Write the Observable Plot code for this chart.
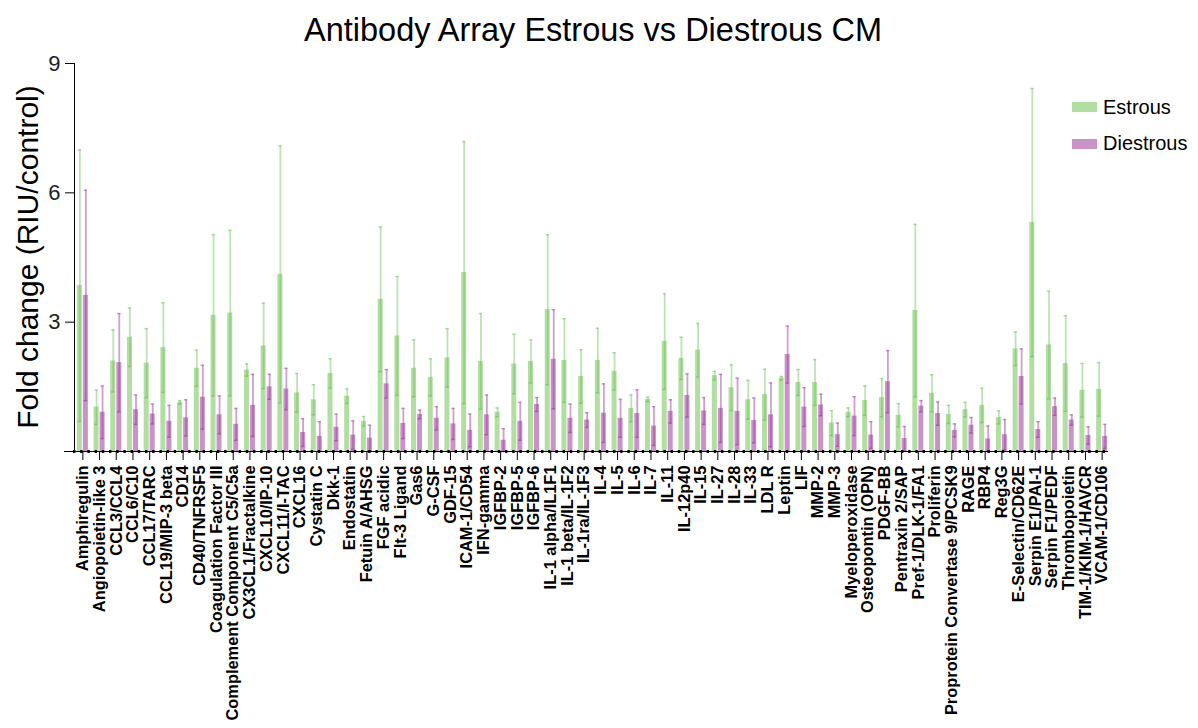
<!DOCTYPE html>
<html><head><meta charset="utf-8">
<script src="https://cdn.jsdelivr.net/npm/d3@7"></script>
<script src="https://cdn.jsdelivr.net/npm/@observablehq/plot@0.6"></script>
<style>
body{margin:0;background:#fff;}
#wrap{position:relative;width:1198px;height:728px;overflow:hidden;font-family:"Liberation Sans",Arial,sans-serif;background:#fff;}
#chart{position:absolute;left:0;top:0;}
#title{position:absolute;left:193px;width:800px;top:14px;text-align:center;font-size:32.5px;line-height:32px;color:#000;white-space:nowrap;}
#ylab{position:absolute;left:-172px;width:400px;top:242px;line-height:30px;font-size:30px;text-align:center;transform:rotate(-90deg);color:#000;white-space:nowrap;}
.sw{position:absolute;width:25px;height:10px;}
.lt{position:absolute;font-size:20px;line-height:20px;color:#000;white-space:nowrap;}
#chart svg g[aria-label^="x-axis"] text{font-size:16.4px;font-weight:bold;fill:#000;font-family:"Liberation Sans",Arial,sans-serif;}
#chart svg g[aria-label^="y-axis"] text{font-size:22px;fill:#222;font-family:"Liberation Sans",Arial,sans-serif;}
</style>
</head><body>
<div id="wrap">
  <div id="chart"></div>
  <div id="title">Antibody Array Estrous vs Diestrous CM</div>
  <div id="ylab">Fold change (RIU/control)</div>
  <div class="sw" style="left:1072px;top:102px;background:#b2dea2"></div>
  <div class="lt" style="left:1103px;top:97px;">Estrous</div>
  <div class="sw" style="left:1072px;top:139px;background:#c993c8"></div>
  <div class="lt" style="left:1103px;top:133px;">Diestrous</div>
</div>
<script>
const categories = ["Amphiregulin","Angiopoietin-like 3","CCL3/CCL4","CCL6/C10","CCL17/TARC","CCL19/MIP-3 beta","CD14","CD40/TNFRSF5","Coagulation Factor III","Complement Component C5/C5a","CX3CL1/Fractalkine","CXCL10/IP-10","CXCL11/I-TAC","CXCL16","Cystatin C","Dkk-1","Endostatin","Fetuin A/AHSG","FGF acidic","Flt-3 Ligand","Gas6","G-CSF","GDF-15","ICAM-1/CD54","IFN-gamma","IGFBP-2","IGFBP-5","IGFBP-6","IL-1 alpha/IL1F1","IL-1 beta/IL-1F2","IL-1ra/IL-1F3","IL-4","IL-5","IL-6","IL-7","IL-11","IL-12p40","IL-15","IL-27","IL-28","IL-33","LDL R","Leptin","LIF","MMP-2","MMP-3","Myeloperoxidase","Osteopontin (OPN)","PDGF-BB","Pentraxin 2/SAP","Pref-1/DLK-1/FA1","Proliferin","Proprotein Convertase 9/PCSK9","RAGE","RBP4","Reg3G","E-Selectin/CD62E","Serpin E1/PAI-1","Serpin F1/PEDF","Thrombopoietin","TIM-1/KIM-1/HAVCR","VCAM-1/CD106"];
const estrous = [3.85,1.03,2.10,2.65,2.05,2.41,1.14,1.93,3.16,3.21,1.89,2.45,4.11,1.36,1.20,1.81,1.28,0.70,3.53,2.68,1.93,1.72,2.17,4.15,2.09,0.91,2.03,2.09,3.29,2.11,1.74,2.11,1.86,1.00,1.21,2.55,2.16,2.35,1.76,1.48,1.20,1.32,1.70,1.60,1.60,0.66,0.91,1.18,1.25,0.84,3.27,1.35,0.86,0.97,1.07,0.79,2.38,5.31,2.47,2.04,1.42,1.44];
const estrousErr = [3.15,0.40,0.72,0.68,0.80,1.04,0.04,0.42,1.87,1.92,0.14,0.99,2.98,0.45,0.35,0.34,0.17,0.11,1.68,1.38,0.66,0.43,0.68,3.04,1.11,0.10,0.69,0.50,1.74,0.97,0.62,0.75,0.43,0.31,0.05,1.11,0.49,0.62,0.10,0.53,0.45,0.59,0.04,0.30,0.53,0.29,0.10,0.34,0.44,0.27,2.00,0.43,0.21,0.17,0.40,0.15,0.39,3.11,1.25,1.11,0.62,0.62];
const diestrous = [3.62,0.91,2.06,0.97,0.87,0.70,0.78,1.26,0.85,0.63,1.07,1.50,1.45,0.44,0.35,0.56,0.38,0.31,1.57,0.65,0.86,0.77,0.64,0.49,0.85,0.26,0.70,1.09,2.14,0.77,0.73,0.89,0.77,0.88,0.59,0.93,1.30,0.94,1.00,0.93,0.72,0.85,2.25,1.03,1.08,0.39,0.82,0.38,1.62,0.30,1.05,0.88,0.49,0.61,0.29,0.39,1.74,0.51,1.04,0.73,0.37,0.35];
const diestrousErr = [2.44,0.61,1.14,0.34,0.23,0.37,0.42,0.74,0.44,0.37,0.72,0.29,0.48,0.32,0.34,0.31,0.33,0.30,0.33,0.35,0.10,0.27,0.36,0.38,0.46,0.27,0.44,0.16,1.15,0.33,0.17,0.68,0.44,0.55,0.45,0.27,0.50,0.31,0.79,0.77,0.52,0.74,0.66,0.45,0.25,0.27,0.45,0.31,0.72,0.28,0.13,0.27,0.15,0.18,0.30,0.35,0.64,0.18,0.20,0.12,0.20,0.28];
const seriesNames = ["Estrous","Diestrous"];
const seriesColors = ["#b2dea2","#c993c8"];
const errColors = ["#6cc05a","#a33ea3"];

const mk = (vals, errs, s) => categories.map((c,i) => ({cat:c, series:s, mean:vals[i], lo:Math.max(0, vals[i]-errs[i]), hi:vals[i]+errs[i]}));
const E = mk(estrous, estrousErr, seriesNames[0]);
const D = mk(diestrous, diestrousErr, seriesNames[1]);

const ML = 74, MR = 88, W = 1198;
const bw = (W - ML - MR) / categories.length;
const half = bw/2;
const barW = 5, gap = 0.5;
const off = gap + barW/2;
const capW = 3.4;

const chart = Plot.plot({
  width: W, height: 728,
  marginLeft: ML, marginRight: MR, marginTop: 63, marginBottom: 277,
  style: {fontFamily: '"Liberation Sans", Arial, sans-serif', background: "transparent", color: "#000"},
  x: {domain: categories, padding: 0, tickSize: 9, tickRotate: -90, tickPadding: 5, label: null},
  y: {domain: [0, 9], ticks: [0, 3, 6, 9], tickFormat: d => d === 0 ? "" : String(d), tickSize: 9, tickPadding: 5, label: null, line: true},
  marks: [
    Plot.barY(E, {x: "cat", y: "mean", fill: seriesColors[0], insetLeft: half - gap - barW, insetRight: half + gap}),
    Plot.barY(D, {x: "cat", y: "mean", fill: seriesColors[1], insetLeft: half + gap, insetRight: half - gap - barW}),
    Plot.ruleX(E, {x: "cat", y1: "lo", y2: "hi", dx: -off, stroke: errColors[0], strokeOpacity: 0.45, strokeWidth: 1.8}),
    Plot.ruleX(D, {x: "cat", y1: "lo", y2: "hi", dx: off, stroke: errColors[1], strokeOpacity: 0.5, strokeWidth: 1.8}),
    Plot.tickY(E, {x: "cat", y: "hi", stroke: errColors[0], strokeOpacity: 0.5, strokeWidth: 1.5, insetLeft: half - off - capW/2, insetRight: bw - (half - off - capW/2) - capW}),
    Plot.tickY(E, {x: "cat", y: "lo", stroke: errColors[0], strokeOpacity: 0.7, strokeWidth: 1.5, insetLeft: half - off - capW/2, insetRight: bw - (half - off - capW/2) - capW}),
    Plot.tickY(D, {x: "cat", y: "hi", stroke: errColors[1], strokeOpacity: 0.5, strokeWidth: 1.5, insetLeft: half + off - capW/2, insetRight: bw - (half + off - capW/2) - capW}),
    Plot.tickY(D, {x: "cat", y: "lo", stroke: errColors[1], strokeOpacity: 0.7, strokeWidth: 1.5, insetLeft: half + off - capW/2, insetRight: bw - (half + off - capW/2) - capW}),
    Plot.ruleY([0], {stroke: "#000", strokeWidth: 1.2, insetLeft: -10, insetRight: 2}),
    Plot.ruleY([0], {stroke: "#000", strokeWidth: 3, strokeDasharray: "2.4,4.8", insetLeft: -1, insetRight: 2})
  ]
});
document.getElementById("chart").appendChild(chart);
</script>
</body></html>
